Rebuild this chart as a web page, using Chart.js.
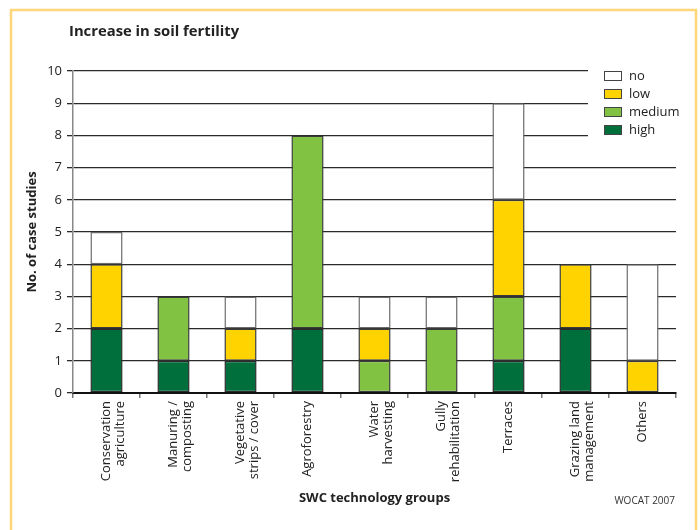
<!DOCTYPE html>
<html><head><meta charset="utf-8">
<script src="https://cdn.jsdelivr.net/npm/chart.js@4.4.1/dist/chart.umd.min.js"></script>
<style>html,body{margin:0;padding:0;background:#fff}#wrap{width:700px;height:530px;position:relative}</style>
</head><body><div id="wrap"><canvas id="c" width="700" height="530"></canvas></div>
<script>
const categories = [['Conservation','agriculture'], ['Manuring /','composting'], ['Vegetative','strips / cover'], 'Agroforestry', ['Water','harvesting'], ['Gully','rehabilitation'], 'Terraces', ['Grazing land','management'], 'Others'];
const seriesNames = ['high', 'medium', 'low', 'no'];
const highValues   = [2, 1, 1, 2, 0, 0, 1, 2, 0];
const mediumValues = [0, 2, 0, 6, 1, 2, 2, 0, 0];
const lowValues    = [2, 0, 1, 0, 1, 0, 3, 2, 1];
const noValues     = [1, 0, 1, 0, 1, 1, 3, 0, 3];
const yTickMin = 0, yTickMax = 10, yTickStep = 1;
const chartTitle = 'Increase in soil fertility';
const xTitle = 'SWC technology groups';
const yTitle = 'No. of case studies';
const sourceNote = 'WOCAT 2007';

const FONT = '"Open Sans", "DejaVu Sans", sans-serif';
const colors = {high: '#006f3b', medium: '#82c242', low: '#ffd300', no: '#ffffff'};
const borders = {high: '#2a2a2a', medium: '#3a3a3a', low: '#3a3a3a', no: '#6a6a6a'};
const values = {high: highValues, medium: mediumValues, low: lowValues, no: noValues};

const decor = {
  id: 'decor',
  beforeDraw(chart) {
    const ctx = chart.ctx;
    ctx.save();
    ctx.fillStyle = '#fff';
    ctx.fillRect(0, 0, chart.width, chart.height);
    ctx.strokeStyle = '#ffd77a';
    ctx.lineWidth = 2.5;
    ctx.strokeRect(11, 10, 685, 560);
    ctx.fillStyle = '#222';
    ctx.font = 'bold 14.8px ' + FONT;
    ctx.textBaseline = 'middle';
    ctx.textAlign = 'left';
    ctx.fillText(chartTitle, 69, 32);
    ctx.restore();
  },
  afterDatasetsDraw(chart) {
    const ctx = chart.ctx;
    ctx.save();
    ctx.fillStyle = '#fff';
    ctx.fillRect(588, 63, 92, 78);
    const ds = chart.data.datasets.slice().reverse();
    ds.forEach((d, i) => {
      const y = 71 + i * 18;
      ctx.fillStyle = d.backgroundColor;
      ctx.fillRect(604, y, 18, 10);
      ctx.strokeStyle = '#444';
      ctx.lineWidth = 1;
      ctx.strokeRect(604.5, y + 0.5, 17, 9);
      ctx.fillStyle = '#222';
      ctx.font = '13px ' + FONT;
      ctx.textBaseline = 'middle';
      ctx.textAlign = 'left';
      ctx.fillText(d.label, 629, y + 5);
    });
    ctx.restore();
  },
  afterDraw(chart) {
    const ctx = chart.ctx;
    ctx.save();
    ctx.fillStyle = '#333';
    ctx.font = '10px ' + FONT;
    ctx.textBaseline = 'middle';
    ctx.textAlign = 'right';
    ctx.fillText(sourceNote, 675, 501);
    ctx.restore();
  }
};

new Chart(document.getElementById('c'), {
  type: 'bar',
  data: {
    labels: categories,
    datasets: seriesNames.map(n => ({
      label: n,
      data: values[n],
      backgroundColor: colors[n],
      borderColor: borders[n],
      borderWidth: 1.5,
      borderSkipped: false,
      barPercentage: 0.48,
      categoryPercentage: 1.0
    }))
  },
  options: {
    responsive: false,
    animation: false,
    devicePixelRatio: 1,
    layout: {padding: {left: 22, top: 71, right: 24, bottom: 20}},
    plugins: {legend: {display: false}, tooltip: {enabled: false}, title: {display: false}},
    scales: {
      x: {
        stacked: true,
        offset: true,
        grid: {drawOnChartArea: false, drawTicks: true, offset: true, tickLength: 5, color: '#777', lineWidth: 1.5},
        border: {color: '#111', width: 2},
        ticks: {minRotation: 90, maxRotation: 90, autoSkip: false, color: '#222', padding: 3, font: {family: FONT, size: 13, lineHeight: 1.05}},
        title: {display: true, text: xTitle, color: '#222', font: {family: FONT, size: 13, weight: 'bold'}, padding: {top: 4, bottom: 4}},
        afterFit(s) { s.height = 117; }
      },
      y: {
        stacked: true,
        min: yTickMin, max: yTickMax,
        ticks: {stepSize: yTickStep, color: '#222', padding: 5, font: {family: FONT, size: 13}},
        grid: {color: '#2a2a2a', lineWidth: 1.3, tickLength: 6, drawTicks: true},
        border: {color: '#888', width: 1.5},
        title: {display: true, text: yTitle, color: '#222', font: {family: FONT, size: 13, weight: 'bold'}, padding: {top: 2, bottom: 2}},
        afterFit(s) { s.width = 51; }
      }
    }
  },
  plugins: [decor]
});
</script>
</body></html>
